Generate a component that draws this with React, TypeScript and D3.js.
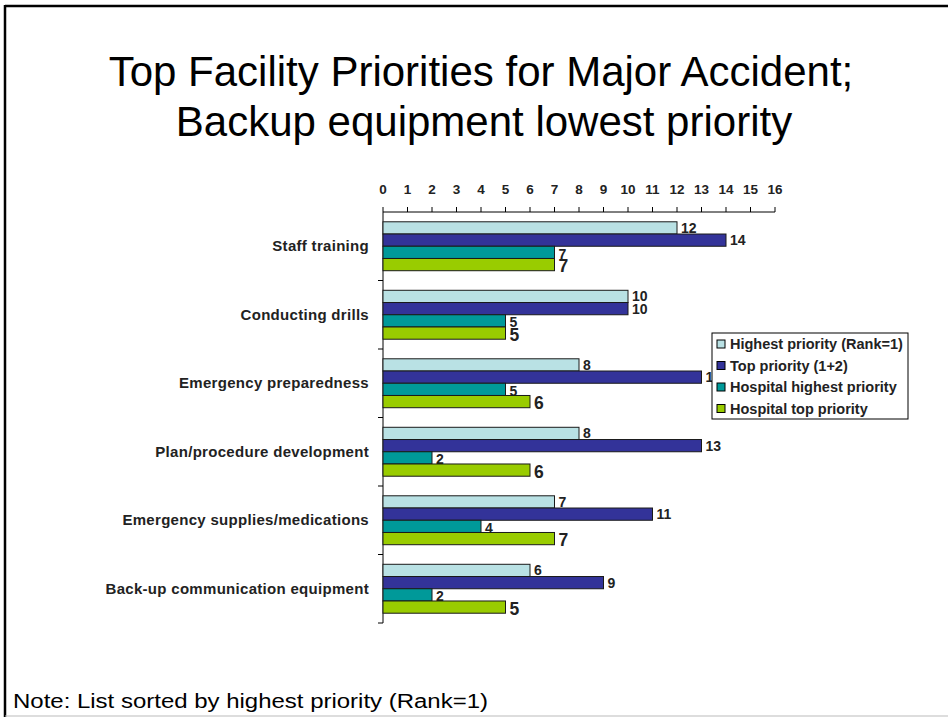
import React from "react";
import * as d3 from "d3";

const categories = [
  "Staff training",
  "Conducting drills",
  "Emergency preparedness",
  "Plan/procedure development",
  "Emergency supplies/medications",
  "Back-up communication equipment",
];
const seriesNames = [
  "Highest priority (Rank=1)",
  "Top priority (1+2)",
  "Hospital highest priority",
  "Hospital top priority",
];
const highestPriority = [12, 10, 8, 8, 7, 6];
const topPriority = [14, 10, 13, 13, 11, 9];
const hospitalHighest = [7, 5, 5, 2, 4, 2];
const hospitalTop = [7, 5, 6, 6, 7, 5];
const seriesColors = ["#b9e1e4", "#333399", "#009999", "#99cc00"];
const xTicks = d3.range(0, 17);

const W = 948;
const H = 717;
const FONT = "'Liberation Sans', Arial, sans-serif";

export default function App() {
  const series = [highestPriority, topPriority, hospitalHighest, hospitalTop];
  const x = d3.scaleLinear().domain([0, 16]).range([383, 775]);
  const y = d3.scaleBand<string>().domain(categories).range([212, 623]).padding(0);
  const sub = d3
    .scaleBand<number>()
    .domain([0, 1, 2, 3])
    .range([0, y.step()])
    .paddingInner(0)
    .paddingOuter(0.8);
  const bh = sub.bandwidth();

  const labelStyle = [
    { size: 14, dy: -1.5 },
    { size: 14, dy: -1 },
    { size: 14, dy: 0.5 },
    { size: 17.5, dy: 1.5 },
  ];

  const bars: React.ReactNode[] = [];
  const labels: React.ReactNode[] = [];
  const tealLabels: React.ReactNode[] = [];
  categories.forEach((c, ci) => {
    series.forEach((s, si) => {
      const v = s[ci];
      const y0 = (y(c) as number) + (sub(si) as number);
      bars.push(
        <rect
          key={`b${ci}-${si}`}
          x={x(0)}
          y={y0}
          width={x(v) - x(0)}
          height={bh}
          fill={seriesColors[si]}
          stroke="#1a1a1a"
          strokeWidth={1}
        />
      );
      const t = (
        <text
          key={`l${ci}-${si}`}
          x={x(v) + 4}
          y={y0 + bh + labelStyle[si].dy}
          fontSize={labelStyle[si].size}
          fontWeight="bold"
          fill="#222"
          fontFamily={FONT}
        >
          {v}
        </text>
      );
      if (si === 2) tealLabels.push(t);
      else labels.push(t);
    });
  });

  const legendX = 712;
  const legendY = 333;

  return (
    <svg
      width={W}
      height={H}
      style={{ position: "absolute", left: 0, top: 0, background: "#fff" }}
      fontFamily={FONT}
    >
      <rect x={0} y={0} width={W} height={H} fill="#fff" />
      {/* slide frame */}
      <line x1={5} y1={6} x2={W} y2={6} stroke="#000" strokeWidth={2.5} />
      <line x1={5} y1={5} x2={5} y2={H} stroke="#000" strokeWidth={2.5} />
      <line x1={5} y1={716} x2={W} y2={716} stroke="#bbb" strokeWidth={1} />

      {/* title */}
      <text x={481} y={86} textAnchor="middle" fontSize={42} fill="#000">
        Top Facility Priorities for Major Accident;
      </text>
      <text x={484} y={136} textAnchor="middle" fontSize={42} fill="#000">
        Backup equipment lowest priority
      </text>

      {/* top axis */}
      <line x1={x(0)} y1={212} x2={x(16)} y2={212} stroke="#000" strokeWidth={1} />
      {xTicks.map((t) => (
        <g key={`xt${t}`}>
          <line x1={x(t)} y1={207} x2={x(t)} y2={212} stroke="#000" strokeWidth={1} />
          <text x={x(t)} y={194} textAnchor="middle" fontSize={13.5} fontWeight="bold" fill="#222">
            {t}
          </text>
        </g>
      ))}

      {/* left axis */}
      <line x1={x(0)} y1={212} x2={x(0)} y2={623} stroke="#000" strokeWidth={1} />
      {categories.map((c) => (
        <line
          key={`yt${c}`}
          x1={x(0) - 5}
          y1={(y(c) as number) + y.step()}
          x2={x(0)}
          y2={(y(c) as number) + y.step()}
          stroke="#000"
          strokeWidth={1}
        />
      ))}
      {categories.map((c) => (
        <text
          key={`yl${c}`}
          x={369}
          y={(y(c) as number) + y.step() / 2 + 1}
          textAnchor="end"
          dominantBaseline="middle"
          fontSize={15}
          letterSpacing={0.3}
          fontWeight="bold"
          fill="#222"
        >
          {c}
        </text>
      ))}

      {tealLabels}
      {bars}
      {labels}

      {/* legend */}
      <rect x={legendX} y={legendY} width={196} height={86} fill="#fff" stroke="#000" strokeWidth={1} />
      {seriesNames.map((n, i) => (
        <g key={`lg${i}`} transform={`translate(${legendX + 5},${legendY + 7 + i * 21.5})`}>
          <rect x={0} y={0} width={8} height={8} fill={seriesColors[i]} stroke="#000" strokeWidth={1} />
          <text x={13} y={9} fontSize={14.5} fontWeight="bold" fill="#222">
            {n}
          </text>
        </g>
      ))}

      {/* note */}
      <text x={13} y={708} fontSize={19.5} fill="#000" textLength={475} lengthAdjust="spacingAndGlyphs">
        Note: List sorted by highest priority (Rank=1)
      </text>
    </svg>
  );
}
